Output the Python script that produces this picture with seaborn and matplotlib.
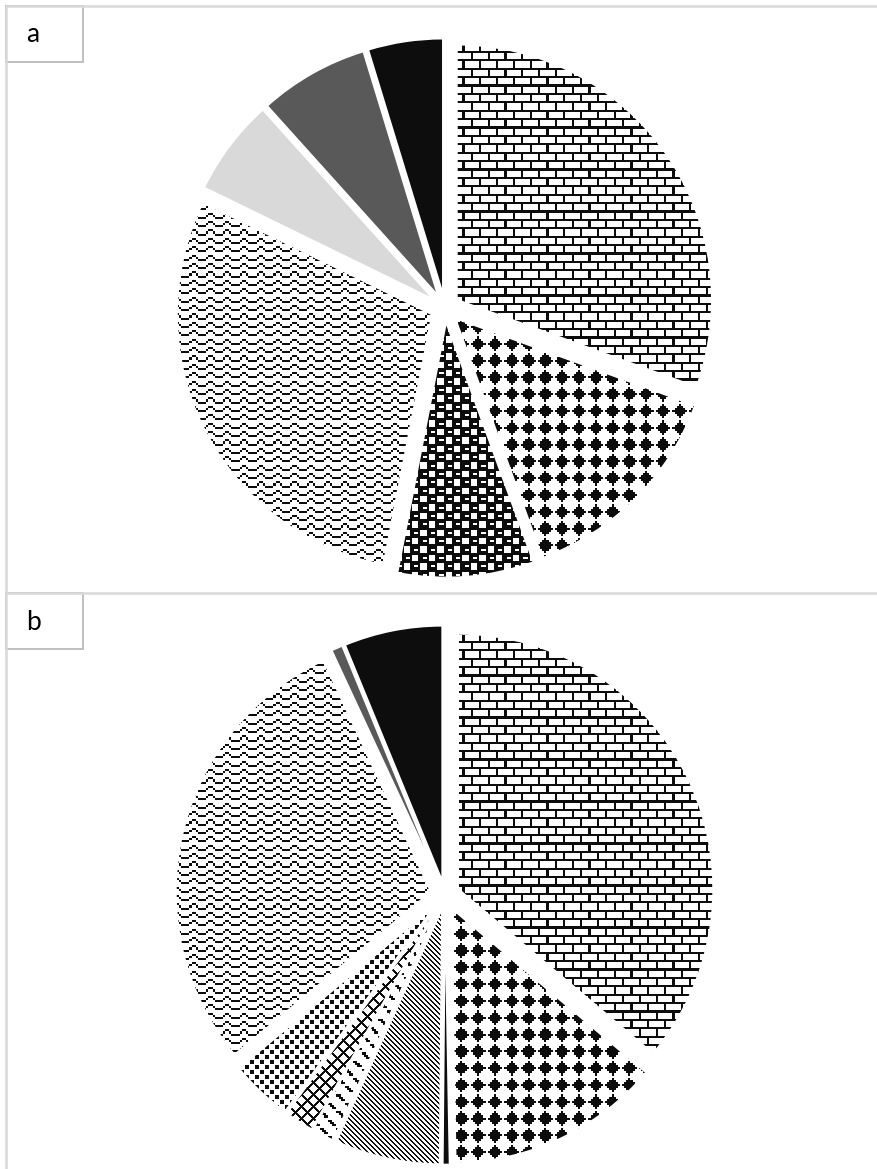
import matplotlib
matplotlib.use("Agg")
import matplotlib.pyplot as plt
import numpy as np
import seaborn as sns
from matplotlib.patches import Rectangle

sns.set_theme(style="white")
plt.rcParams['font.family'] = ['Lato', 'DejaVu Sans']

## Data (slice sizes in degrees, clockwise from 12 o'clock) ##
fills_a = ['brick', 'diamond', 'sphere', 'wave', '#d9d9d9', '#595959', '#0d0d0d']
sizes_a = [110, 50, 31, 105, 22, 25, 17]

fills_b = ['brick', 'diamond', '#0d0d0d', 'stripes', 'dashes', 'trellis', 'dots',
           'wave', '#595959', '#0d0d0d']
sizes_b = [128, 48, 1.5, 23.5, 5, 6.5, 14, 103, 2.5, 22]

panel_labels = ['a', 'b']

W = 877
FIG_H = 1169


def bitmap(rows):
    return np.array([[c == '1' for c in r] for r in rows])


# 8x8 excel-like fill patterns
BASE = {
    'brick': bitmap(["11111111", "10000000", "10000000", "10000000",
                     "11111111", "00001000", "00001000", "00001000"]),
    'diamond': bitmap(["00010000", "00111000", "01111100", "11111110",
                       "01111100", "00111000", "00010000", "00000000"]),
    'sphere': bitmap(["11110001", "10010001", "11110001", "11111111",
                      "00011111", "00011001", "00011111", "11111111"]),
    'wave': bitmap(["00000000", "00011000", "00100100", "11000011",
                    "00000000", "00011000", "00100100", "11000011"]),
    'dashes': bitmap(["11000000", "01100000", "00110000", "00000000",
                      "00001100", "00000110", "00000011", "00000000"]),
}


def pattern_mask(name, H):
    yy, xx = np.mgrid[0:H, 0:W]
    if name in BASE:
        bm = BASE[name]
        by = (yy / 2.1).astype(int) % bm.shape[0]
        bx = (xx / 2.1).astype(int) % bm.shape[1]
        return bm[by, bx]
    if name == 'stripes':
        return (xx - yy) % 5 < 2
    if name == 'trellis':
        return ((xx + yy) % 12 < 3) | ((xx - yy) % 12 < 3)
    if name == 'dots':
        return (((xx % 10) < 4) & ((yy % 10) < 4)) | ((((xx + 5) % 10) < 4) & (((yy + 5) % 10) < 4))
    return np.zeros((H, W), dtype=bool)


def draw_pie(ax, fills, sizes, H, cy):
    colors = [f if f.startswith('#') else 'white' for f in fills]
    wedges, _ = ax.pie(sizes, colors=colors, startangle=90, counterclock=False,
                       explode=[14.5] * len(sizes), center=(445, cy), radius=255,
                       wedgeprops=dict(edgecolor='white', linewidth=1.2), frame=True)
    for w, f in zip(wedges, fills):
        w.set_zorder(2)
        if f.startswith('#'):
            continue
        img = np.ones((H, W, 3))
        img[pattern_mask(f, H)] = 0.05
        im = ax.imshow(img, extent=(0, W, 0, H), origin='upper',
                       interpolation='nearest', zorder=1.5)
        im.set_clip_path(w)
        w.set_facecolor('none')
    ax.set_xlim(0, W)
    ax.set_ylim(0, H)
    ax.set_aspect('equal')
    ax.axis('off')


fig = plt.figure(figsize=(W / 100, FIG_H / 100), dpi=100)
fig.patch.set_facecolor('white')

H_a, H_b = 590, 579
ax_a = fig.add_axes([0, H_b / FIG_H, 1, H_a / FIG_H])
ax_b = fig.add_axes([0, 0, 1, H_b / FIG_H])

draw_pie(ax_a, fills_a, sizes_a, H_a, H_a - 308)
draw_pie(ax_b, fills_b, sizes_b, H_b, H_b - 305)

# panel frames and label boxes (pixel coords, y from top)
ov = fig.add_axes([0, 0, 1, 1], zorder=10)
ov.set_xlim(0, W)
ov.set_ylim(FIG_H, 0)
ov.axis('off')
ov.patch.set_alpha(0)

line_kw = dict(color='#d9d9d9', lw=1.8, solid_capstyle='butt')
ov.plot([6, W], [6, 6], **line_kw)
ov.plot([6, 6], [6, FIG_H], **line_kw)
ov.plot([6, W], [593, 593], **line_kw)

for lab, top in zip(panel_labels, [6, 593]):
    ov.add_patch(Rectangle((6, top), 77, 56, fill=False, ec='#bfbfbf', lw=1.4))
    ov.text(33, top + 29, lab, ha='center', va='center', fontsize=19, color='black')

fig.savefig('out.png', dpi=100)
